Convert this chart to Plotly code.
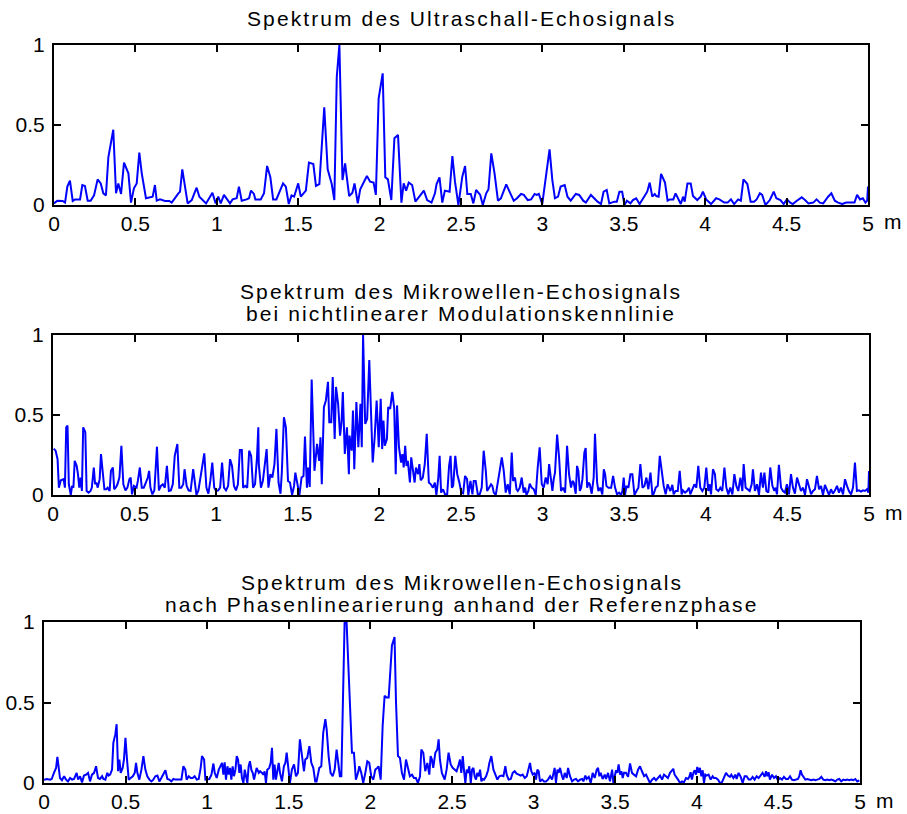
import plotly.graph_objects as go

# ---------------- data ----------------
# Spectrum of the ultrasonic echo signal
x1 = [0, 0.020, 0.053, 0.068, 0.082, 0.098, 0.115, 0.129, 0.160, 0.174,
      0.190, 0.207, 0.225, 0.246, 0.268, 0.287, 0.303, 0.319, 0.334, 0.364,
      0.381, 0.395, 0.412, 0.430, 0.457, 0.473, 0.491, 0.508, 0.524, 0.539,
      0.565, 0.590, 0.606, 0.620, 0.631, 0.651, 0.682, 0.708, 0.723, 0.764,
      0.774, 0.788, 0.805, 0.821, 0.846, 0.876, 0.893, 0.917, 0.934, 0.973,
      0.993, 1.009, 1.024, 1.044, 1.081, 1.097, 1.122, 1.136, 1.153, 1.183,
      1.198, 1.210,
      1.228, 1.237, 1.270, 1.290, 1.309, 1.329, 1.346, 1.366, 1.407, 1.424,
      1.442, 1.459, 1.475, 1.500, 1.516, 1.547, 1.566, 1.593, 1.609, 1.630,
      1.660, 1.681, 1.706, 1.722, 1.737, 1.753, 1.772, 1.788, 1.813, 1.833,
      1.846, 1.866, 1.881, 1.922, 1.942, 1.963, 1.977, 1.994, 2.019, 2.035,
      2.051, 2.072, 2.091, 2.113, 2.134, 2.148, 2.163, 2.179, 2.200, 2.220,
      2.241, 2.272, 2.292, 2.319, 2.340, 2.350, 2.368, 2.385, 2.401, 2.430,
      2.447, 2.463,
      2.484, 2.508, 2.525, 2.539, 2.560, 2.576, 2.593, 2.618, 2.634, 2.655,
      2.669, 2.686, 2.706, 2.727, 2.745, 2.778, 2.803, 2.824, 2.844, 2.869,
      2.886, 2.910, 2.931, 2.952, 2.964, 2.978, 2.999, 3.026, 3.044, 3.061,
      3.077, 3.096, 3.112, 3.137, 3.154, 3.174, 3.205, 3.226, 3.251, 3.267,
      3.298, 3.339, 3.360, 3.376, 3.395, 3.411, 3.442, 3.457, 3.473, 3.490,
      3.504, 3.519, 3.541, 3.556, 3.576, 3.597, 3.628, 3.644, 3.659, 3.675,
      3.690, 3.700, 3.714,
      3.729, 3.753, 3.769, 3.783, 3.804, 3.818, 3.834, 3.850, 3.864, 3.874,
      3.891, 3.911, 3.925, 3.951, 3.972, 3.986, 4.006, 4.036, 4.067, 4.087,
      4.117, 4.138, 4.158, 4.178, 4.202, 4.219, 4.235, 4.259, 4.279, 4.300,
      4.316, 4.336, 4.350, 4.370, 4.397, 4.421, 4.437, 4.462, 4.482, 4.502,
      4.522, 4.538, 4.563, 4.593, 4.613, 4.634, 4.664, 4.684, 4.704, 4.725,
      4.755, 4.775, 4.796, 4.816, 4.842, 4.866, 4.887, 4.917, 4.933, 4.951,
      4.968, 4.984, 4.995, 5.0]
y1 = [0.010, 0.027, 0.025, 0.015, 0.115, 0.152, 0.025, 0.035, 0.035, 0.125,
      0.119, 0.027, 0.027, 0.060, 0.160, 0.135, 0.073, 0.060, 0.300, 0.470,
      0.073, 0.135, 0.069, 0.265, 0.198, 0.015, 0.104, 0.135, 0.327, 0.198,
      0.042, 0.048, 0.052, 0.125, 0.027, 0.035, 0.025, 0.025, 0.015, 0.073,
      0.083, 0.223, 0.125, 0.010, 0.031, 0.108, 0.052, 0.027, 0.010, 0.077,
      0.010, 0.052, 0.010, 0.063, 0.010, 0.035, 0.042, 0.115, 0.027, 0.035,
      0.042, 0.090,
      0.069, 0.035, 0.035, 0.073, 0.244, 0.173, 0.035, 0.035, 0.135, 0.115,
      0.006, 0.060, 0.052, 0.135, 0.052, 0.090, 0.265, 0.256, 0.119, 0.131,
      0.610, 0.223, 0.131, 0.031, 0.802, 1.000, 0.156, 0.260, 0.056, 0.077,
      0.135, 0.010, 0.098, 0.181, 0.146, 0.140, 0.063, 0.665, 0.823, 0.173,
      0.160, 0.031, 0.417, 0.438, 0.015, 0.135, 0.090, 0.140, 0.125, 0.021,
      0.052, 0.090, 0.031, 0.015, 0.073, 0.131, 0.173, 0.015, 0.090, 0.083,
      0.306, 0.146,
      0.000, 0.177, 0.244, 0.069, 0.069, 0.010, 0.094, 0.063, 0.000, 0.073,
      0.098, 0.323, 0.198, 0.027, 0.042, 0.129, 0.073, 0.027, 0.042, 0.069,
      0.063, 0.031, 0.035, 0.069, 0.063, 0.069, 0.006, 0.223, 0.348, 0.156,
      0.042, 0.052, 0.115, 0.125, 0.052, 0.027, 0.069, 0.063, 0.027, 0.015,
      0.063, 0.021, 0.006, 0.083, 0.094, 0.010, 0.021, 0.021, 0.083, 0.083,
      0.000, 0.027, 0.010, 0.031, 0.042, 0.006, 0.056, 0.083, 0.140, 0.052,
      0.069, 0.056, 0.052,
      0.194, 0.140, 0.027, 0.035, 0.035, 0.073, 0.035, 0.006, 0.052, 0.021,
      0.135, 0.135, 0.056, 0.031, 0.052, 0.083, 0.035, 0.006, 0.042, 0.035,
      0.015, 0.015, 0.035, 0.006, 0.035, 0.027, 0.160, 0.131, 0.021, 0.021,
      0.035, 0.073, 0.063, 0.000, 0.031, 0.083, 0.042, 0.031, 0.006, 0.035,
      0.015, 0.006, 0.027, 0.048, 0.031, 0.010, 0.015, 0.035, 0.015, 0.010,
      0.052, 0.073, 0.027, 0.015, 0.006, 0.015, 0.015, 0.015, 0.063, 0.035,
      0.042, 0.015, 0.027, 0.115]

# Spectrum of the microwave echo signal, nonlinear modulation characteristic
x2 = [0.004, 0.016, 0.028, 0.036, 0.048, 0.065, 0.073, 0.081, 0.089, 0.097,
      0.109, 0.117, 0.125, 0.133, 0.145, 0.153, 0.161, 0.169, 0.177, 0.185,
      0.198, 0.206, 0.218, 0.230, 0.238, 0.250, 0.258, 0.266, 0.274, 0.286,
      0.294, 0.306, 0.315, 0.327, 0.335, 0.347, 0.355, 0.367, 0.375, 0.387,
      0.395, 0.407, 0.419, 0.431, 0.444, 0.456, 0.468, 0.476, 0.484, 0.496,
      0.512, 0.520, 0.532, 0.544, 0.556, 0.569, 0.581, 0.589, 0.597, 0.609,
      0.621, 0.637, 0.649, 0.661, 0.673, 0.685, 0.698, 0.710, 0.722, 0.734,
      0.746, 0.762, 0.774, 0.786, 0.798, 0.806, 0.819, 0.831, 0.843, 0.859,
      0.871, 0.879, 0.891, 0.903, 0.915, 0.927, 0.940, 0.952, 0.964, 0.976,
      0.988, 1.000, 1.012, 1.024, 1.036, 1.048, 1.060, 1.073, 1.085, 1.097,
      1.109, 1.121, 1.133, 1.145, 1.157, 1.165, 1.177, 1.190, 1.202, 1.214,
      1.226, 1.238, 1.250, 1.258,
      1.261, 1.274, 1.286, 1.299, 1.309, 1.320, 1.332, 1.344, 1.357, 1.369,
      1.382, 1.394, 1.402, 1.415, 1.427, 1.440, 1.452, 1.465, 1.477, 1.485,
      1.498, 1.510, 1.523, 1.535, 1.544, 1.556, 1.564, 1.573, 1.585, 1.593,
      1.602, 1.618, 1.631, 1.639, 1.647, 1.660, 1.672, 1.685, 1.693, 1.705,
      1.714, 1.726, 1.734, 1.747, 1.759, 1.768, 1.776, 1.788, 1.801, 1.813,
      1.817, 1.830, 1.838, 1.846, 1.859, 1.871, 1.884, 1.892, 1.900, 1.913,
      1.925, 1.938, 1.950, 1.959, 1.971, 1.983, 1.996, 2.008, 2.017, 2.025,
      2.033, 2.046, 2.054, 2.066, 2.079, 2.091, 2.100, 2.108, 2.120, 2.133,
      2.141, 2.149, 2.158, 2.166, 2.174, 2.187, 2.195, 2.207, 2.216, 2.224,
      2.237, 2.245, 2.253, 2.266, 2.278, 2.290, 2.303, 2.315, 2.328, 2.340,
      2.349, 2.361, 2.369, 2.378, 2.390, 2.402, 2.415, 2.427, 2.436, 2.444,
      2.452, 2.465, 2.477, 2.490, 2.502,
      2.513, 2.525, 2.537, 2.545, 2.558, 2.570, 2.578, 2.590, 2.603, 2.615,
      2.627, 2.639, 2.652, 2.660, 2.672, 2.684, 2.692, 2.701, 2.713, 2.725,
      2.737, 2.750, 2.762, 2.774, 2.786, 2.799, 2.811, 2.819, 2.831, 2.840,
      2.848, 2.860, 2.872, 2.884, 2.893, 2.901, 2.913, 2.921, 2.933, 2.946,
      2.958, 2.970, 2.982, 2.995, 3.007, 3.019, 3.031, 3.040, 3.052, 3.060,
      3.068, 3.076, 3.089, 3.101, 3.113, 3.125, 3.138, 3.150, 3.162, 3.174,
      3.183, 3.191, 3.203, 3.211, 3.219, 3.228, 3.236, 3.244, 3.256, 3.264,
      3.273, 3.281, 3.289, 3.301, 3.313, 3.321, 3.334, 3.342, 3.354, 3.366,
      3.375, 3.383, 3.391, 3.403, 3.420, 3.432, 3.444, 3.456, 3.469, 3.481,
      3.489, 3.497, 3.505, 3.514, 3.526, 3.538, 3.550, 3.563, 3.575, 3.587,
      3.599, 3.612, 3.624, 3.636, 3.648, 3.661, 3.673, 3.681, 3.693, 3.706,
      3.718,
      3.730, 3.742, 3.754, 3.766, 3.774, 3.783, 3.795, 3.803, 3.815, 3.828,
      3.840, 3.852, 3.860, 3.873, 3.885, 3.897, 3.905, 3.917, 3.930, 3.942,
      3.954, 3.966, 3.979, 3.991, 4.003, 4.015, 4.024, 4.032, 4.044, 4.056,
      4.064, 4.077, 4.089, 4.101, 4.114, 4.126, 4.138, 4.150, 4.163, 4.175,
      4.187, 4.199, 4.212, 4.224, 4.232, 4.244, 4.256, 4.269, 4.281, 4.289,
      4.301, 4.314, 4.326, 4.338, 4.350, 4.359, 4.371, 4.383, 4.395, 4.408,
      4.420, 4.428, 4.436, 4.448, 4.461, 4.473, 4.485, 4.497, 4.510, 4.522,
      4.534, 4.546, 4.559, 4.571, 4.583, 4.596, 4.608, 4.620, 4.632, 4.645,
      4.657, 4.669, 4.681, 4.694, 4.706, 4.718, 4.730, 4.743, 4.755, 4.767,
      4.779, 4.792, 4.804, 4.816, 4.828, 4.841, 4.853, 4.865, 4.877, 4.890,
      4.902, 4.914, 4.926, 4.939, 4.951, 4.963, 4.975, 4.988, 4.996, 5.0]
y2 = [0.290, 0.277, 0.224, 0.046, 0.092, 0.099, 0.046, 0.423, 0.434, 0.067,
      0.000, 0.057, 0.046, 0.214, 0.182, 0.130, 0.046, 0.109, 0.025, 0.423,
      0.392, 0.025, 0.015, 0.025, 0.046, 0.172, 0.067, 0.078, 0.046, 0.099,
      0.256, 0.151, 0.036, 0.036, 0.046, 0.025, 0.151, 0.172, 0.036, 0.050,
      0.067, 0.109, 0.308, 0.067, 0.029, 0.046, 0.099, 0.109, 0.004, 0.057,
      0.046, 0.088, 0.172, 0.046, 0.046, 0.078, 0.109, 0.151, 0.046, 0.004,
      0.029, 0.302, 0.029, 0.057, 0.067, 0.046, 0.182, 0.025, 0.029, 0.067,
      0.245, 0.319, 0.046, 0.046, 0.067, 0.161, 0.057, 0.029, 0.025, 0.161,
      0.046, 0.000, 0.029, 0.109, 0.203, 0.260, 0.046, 0.008, 0.088, 0.203,
      0.046, 0.025, 0.029, 0.046, 0.203, 0.046, 0.029, 0.057, 0.224, 0.182,
      0.057, 0.029, 0.067, 0.281, 0.281, 0.046, 0.057, 0.046, 0.277, 0.245,
      0.046, 0.067, 0.235, 0.423,
      0.193, 0.046, 0.088, 0.203, 0.287, 0.046, 0.130, 0.109, 0.193, 0.413,
      0.078, 0.008, 0.140, 0.486, 0.423, 0.088, 0.078, 0.000, 0.057, 0.140,
      0.067, 0.000, 0.109, 0.119, 0.365, 0.046, 0.172, 0.050, 0.721, 0.423,
      0.151, 0.319, 0.214, 0.361, 0.067, 0.549, 0.591, 0.707, 0.455, 0.455,
      0.738, 0.350, 0.675, 0.570, 0.371, 0.455, 0.644, 0.256, 0.423, 0.130,
      0.371, 0.277, 0.528, 0.161, 0.581, 0.298, 0.570, 0.298, 1.000, 0.444,
      0.476, 0.843, 0.465, 0.203, 0.361, 0.591, 0.298, 0.602, 0.287, 0.465,
      0.308, 0.350, 0.549, 0.539, 0.644, 0.539, 0.130, 0.560, 0.298, 0.203,
      0.256, 0.172, 0.308, 0.182, 0.214, 0.078, 0.235, 0.151, 0.078, 0.172,
      0.130, 0.193, 0.092, 0.109, 0.193, 0.382, 0.078, 0.067, 0.046, 0.078,
      0.000, 0.109, 0.245, 0.015, 0.036, 0.004, 0.000, 0.182, 0.245, 0.046,
      0.057, 0.245, 0.130, 0.078, 0.015,
      0.010, 0.119, 0.099, 0.000, 0.088, 0.004, 0.088, 0.088, 0.004, 0.004,
      0.046, 0.277, 0.151, 0.025, 0.046, 0.067, 0.057, 0.015, 0.000, 0.067,
      0.151, 0.235, 0.151, 0.015, 0.067, 0.004, 0.266, 0.088, 0.109, 0.036,
      0.025, 0.046, 0.109, 0.015, 0.046, 0.000, 0.025, 0.071, 0.046, 0.036,
      0.000, 0.172, 0.298, 0.067, 0.046, 0.109, 0.067, 0.193, 0.067, 0.025,
      0.099, 0.140, 0.377, 0.235, 0.025, 0.046, 0.015, 0.308, 0.130, 0.046,
      0.088, 0.078, 0.008, 0.182, 0.151, 0.025, 0.046, 0.099, 0.266, 0.294,
      0.046, 0.078, 0.067, 0.008, 0.109, 0.382, 0.078, 0.025, 0.046, 0.004,
      0.161, 0.130, 0.057, 0.046, 0.046, 0.119, 0.046, 0.004, 0.015, 0.000,
      0.025, 0.109, 0.000, 0.057, 0.046, 0.130, 0.130, 0.000, 0.025, 0.046,
      0.193, 0.046, 0.057, 0.109, 0.036, 0.140, 0.000, 0.008, 0.046, 0.057,
      0.245,
      0.130, 0.057, 0.004, 0.067, 0.046, 0.025, 0.063, 0.004, 0.025, 0.025,
      0.151, 0.004, 0.029, 0.015, 0.025, 0.046, 0.004, 0.036, 0.067, 0.046,
      0.182, 0.046, 0.025, 0.046, 0.172, 0.025, 0.067, 0.004, 0.161, 0.130,
      0.036, 0.025, 0.046, 0.025, 0.172, 0.046, 0.004, 0.046, 0.004, 0.130,
      0.057, 0.025, 0.109, 0.025, 0.193, 0.046, 0.036, 0.025, 0.067, 0.161,
      0.025, 0.067, 0.000, 0.140, 0.046, 0.140, 0.025, 0.015, 0.172, 0.057,
      0.025, 0.046, 0.004, 0.189, 0.046, 0.025, 0.015, 0.067, 0.004, 0.130,
      0.046, 0.008, 0.109, 0.057, 0.025, 0.046, 0.000, 0.099, 0.046, 0.004,
      0.025, 0.036, 0.119, 0.036, 0.057, 0.000, 0.063, 0.025, 0.000, 0.036,
      0.008, 0.029, 0.057, 0.015, 0.046, 0.004, 0.099, 0.057, 0.025, 0.004,
      0.046, 0.203, 0.025, 0.029, 0.021, 0.029, 0.025, 0.036, 0.015, 0.150]

# Spectrum of the microwave echo signal after phase linearisation
x3 = [0.000, 0.018, 0.037, 0.047, 0.061, 0.074, 0.082, 0.090, 0.098, 0.110,
      0.123, 0.135, 0.147, 0.160, 0.172, 0.184, 0.200, 0.209, 0.221, 0.233,
      0.245, 0.258, 0.270, 0.282, 0.294, 0.307, 0.319, 0.331, 0.343, 0.356,
      0.364, 0.376, 0.388, 0.396, 0.405, 0.417, 0.425, 0.437, 0.445, 0.454,
      0.462, 0.470, 0.482, 0.490, 0.499, 0.507, 0.519, 0.531, 0.544, 0.556,
      0.564, 0.572, 0.584, 0.597, 0.609, 0.621, 0.633, 0.646, 0.658, 0.670,
      0.682, 0.695, 0.707, 0.719, 0.731, 0.744, 0.756, 0.768, 0.780, 0.793,
      0.805, 0.817, 0.829, 0.842, 0.854, 0.866, 0.874, 0.887, 0.899, 0.911,
      0.923, 0.936, 0.948, 0.960, 0.968, 0.981, 0.989, 1.001, 1.013, 1.026,
      1.038, 1.046, 1.058, 1.071, 1.083, 1.091, 1.099, 1.107, 1.115, 1.124,
      1.132, 1.140, 1.148, 1.156, 1.164, 1.173, 1.181, 1.189, 1.197, 1.205,
      1.213, 1.222, 1.230, 1.238, 1.246, 1.254, 1.262, 1.271, 1.279, 1.287,
      1.295, 1.303, 1.316, 1.324,
      1.336, 1.344, 1.352, 1.360, 1.368, 1.380, 1.389, 1.397, 1.405, 1.413,
      1.421, 1.429, 1.438, 1.446, 1.458, 1.470, 1.479, 1.487, 1.495, 1.507,
      1.519, 1.532, 1.544, 1.556, 1.568, 1.581, 1.593, 1.601, 1.613, 1.626,
      1.638, 1.650, 1.662, 1.670, 1.679, 1.687, 1.699, 1.711, 1.724, 1.732,
      1.744, 1.756, 1.769, 1.781, 1.793, 1.805, 1.813, 1.822, 1.834, 1.842,
      1.854, 1.862, 1.875, 1.887, 1.899, 1.911, 1.924, 1.932, 1.944, 1.956,
      1.969, 1.981, 1.993, 2.005, 2.018, 2.030, 2.042, 2.050, 2.063, 2.075,
      2.087, 2.099, 2.112, 2.124, 2.132, 2.148, 2.157, 2.169, 2.181, 2.193,
      2.206, 2.218, 2.230, 2.242, 2.255, 2.267, 2.279, 2.291, 2.304, 2.312,
      2.324, 2.336, 2.349, 2.361, 2.369, 2.377, 2.385, 2.398, 2.410, 2.418,
      2.426, 2.438, 2.455, 2.467, 2.479, 2.492, 2.504, 2.516, 2.528, 2.541,
      2.549,
      2.557, 2.566, 2.574, 2.582, 2.590, 2.598, 2.606, 2.615, 2.623, 2.631,
      2.639, 2.647, 2.655, 2.664, 2.672, 2.680, 2.688, 2.696, 2.709, 2.721,
      2.729, 2.741, 2.754, 2.766, 2.778, 2.790, 2.803, 2.815, 2.827, 2.835,
      2.847, 2.860, 2.872, 2.884, 2.896, 2.909, 2.921, 2.933, 2.946, 2.958,
      2.970, 2.978, 2.986, 2.995, 3.007, 3.015, 3.023, 3.031, 3.039, 3.052,
      3.064, 3.076, 3.088, 3.101, 3.113, 3.121, 3.129, 3.137, 3.146, 3.154,
      3.162, 3.174, 3.182, 3.191, 3.203, 3.211, 3.223, 3.236, 3.248, 3.260,
      3.272, 3.285, 3.297, 3.305, 3.317, 3.325, 3.338, 3.350, 3.362, 3.374,
      3.387, 3.395, 3.403, 3.411, 3.423, 3.436, 3.444, 3.456, 3.468, 3.481,
      3.489, 3.497, 3.505, 3.513, 3.521, 3.530, 3.538, 3.546, 3.554, 3.566,
      3.579, 3.591, 3.603, 3.615, 3.628, 3.640, 3.652, 3.664, 3.677, 3.689,
      3.701, 3.713, 3.726, 3.738, 3.750, 3.762, 3.775,
      3.787, 3.799, 3.811, 3.823, 3.836, 3.848, 3.856, 3.864, 3.872, 3.885,
      3.897, 3.909, 3.921, 3.934, 3.946, 3.954, 3.962, 3.970, 3.979, 3.987,
      3.995, 4.003, 4.011, 4.019, 4.028, 4.036, 4.044, 4.052, 4.060, 4.072,
      4.085, 4.097, 4.105, 4.117, 4.130, 4.142, 4.154, 4.166, 4.179, 4.191,
      4.203, 4.211, 4.224, 4.236, 4.244, 4.256, 4.269, 4.281, 4.293, 4.305,
      4.318, 4.330, 4.342, 4.354, 4.367, 4.379, 4.391, 4.403, 4.416, 4.424,
      4.432, 4.440, 4.448, 4.461, 4.473, 4.485, 4.497, 4.510, 4.522, 4.534,
      4.546, 4.559, 4.571, 4.583, 4.595, 4.608, 4.620, 4.628, 4.636, 4.644,
      4.653, 4.665, 4.677, 4.689, 4.702, 4.714, 4.726, 4.738, 4.751, 4.763,
      4.775, 4.787, 4.800, 4.812, 4.824, 4.836, 4.849, 4.861, 4.873, 4.885,
      4.898, 4.910, 4.922, 4.934, 4.947, 4.959, 4.971, 4.983, 4.996]
y3 = [0.020, 0.025, 0.021, 0.025, 0.063, 0.094, 0.163, 0.104, 0.031, 0.017,
      0.042, 0.021, 0.010, 0.031, 0.021, 0.025, 0.063, 0.021, 0.042, 0.004,
      0.046, 0.052, 0.063, 0.010, 0.052, 0.063, 0.104, 0.031, 0.025, 0.042,
      0.025, 0.021, 0.063, 0.046, 0.052, 0.083, 0.250, 0.302, 0.365, 0.073,
      0.146, 0.063, 0.094, 0.146, 0.281, 0.167, 0.021, 0.031, 0.042, 0.063,
      0.125, 0.063, 0.021, 0.083, 0.167, 0.083, 0.042, 0.021, 0.010, 0.021,
      0.042, 0.046, 0.010, 0.031, 0.052, 0.079, 0.025, 0.021, 0.010, 0.025,
      0.021, 0.021, 0.025, 0.021, 0.104, 0.083, 0.021, 0.042, 0.031, 0.031,
      0.042, 0.021, 0.025, 0.094, 0.167, 0.146, 0.021, 0.021, 0.025, 0.052,
      0.121, 0.063, 0.031, 0.083, 0.115, 0.125, 0.052, 0.129, 0.021, 0.104,
      0.052, 0.094, 0.021, 0.104, 0.042, 0.083, 0.167, 0.146, 0.063, 0.115,
      0.031, 0.000, 0.083, 0.042, 0.000, 0.104, 0.135, 0.079, 0.063, 0.021,
      0.063, 0.094, 0.063, 0.073,
      0.063, 0.052, 0.073, 0.000, 0.083, 0.094, 0.125, 0.219, 0.021, 0.115,
      0.021, 0.063, 0.125, 0.063, 0.010, 0.104, 0.125, 0.188, 0.115, 0.000,
      0.083, 0.115, 0.042, 0.063, 0.271, 0.167, 0.073, 0.146, 0.156, 0.229,
      0.125, 0.094, 0.010, 0.010, 0.063, 0.094, 0.104, 0.313, 0.396, 0.333,
      0.167, 0.063, 0.042, 0.083, 0.208, 0.125, 0.042, 0.042, 0.583, 1.000,
      1.000, 0.792, 0.396, 0.188, 0.188, 0.021, 0.063, 0.104, 0.063, 0.000,
      0.063, 0.135, 0.125, 0.042, 0.021, 0.083, 0.094, 0.104, 0.021, 0.354,
      0.542, 0.531, 0.531, 0.719, 0.854, 0.906, 0.500, 0.167, 0.156, 0.063,
      0.021, 0.146, 0.083, 0.042, 0.052, 0.031, 0.031, 0.000, 0.042, 0.208,
      0.188, 0.073, 0.125, 0.052, 0.167, 0.146, 0.094, 0.188, 0.208, 0.271,
      0.146, 0.063, 0.021, 0.083, 0.188, 0.115, 0.094, 0.083, 0.073, 0.115,
      0.146,
      0.063, 0.167, 0.073, 0.000, 0.083, 0.063, 0.104, 0.000, 0.083, 0.094,
      0.042, 0.021, 0.063, 0.042, 0.083, 0.010, 0.025, 0.021, 0.042, 0.079,
      0.125, 0.167, 0.083, 0.052, 0.021, 0.042, 0.046, 0.042, 0.104, 0.052,
      0.021, 0.025, 0.063, 0.073, 0.058, 0.052, 0.046, 0.052, 0.031, 0.042,
      0.083, 0.125, 0.073, 0.052, 0.063, 0.021, 0.083, 0.073, 0.010, 0.021,
      0.010, 0.010, 0.021, 0.042, 0.021, 0.063, 0.094, 0.000, 0.083, 0.063,
      0.094, 0.042, 0.021, 0.063, 0.031, 0.094, 0.042, 0.010, 0.021, 0.025,
      0.010, 0.021, 0.025, 0.010, 0.046, 0.025, 0.038, 0.000, 0.063, 0.031,
      0.083, 0.094, 0.042, 0.063, 0.025, 0.052, 0.025, 0.063, 0.010, 0.083,
      0.000, 0.042, 0.079, 0.063, 0.115, 0.052, 0.073, 0.031, 0.063, 0.063,
      0.038, 0.121, 0.063, 0.052, 0.042, 0.083, 0.104, 0.073, 0.042, 0.052,
      0.021, 0.000, 0.021, 0.031, 0.017, 0.031, 0.046,
      0.021, 0.052, 0.042, 0.031, 0.063, 0.079, 0.088, 0.052, 0.042, 0.021,
      0.000, 0.010, 0.004, 0.031, 0.025, 0.038, 0.067, 0.021, 0.063, 0.079,
      0.052, 0.100, 0.063, 0.094, 0.042, 0.079, 0.000, 0.052, 0.046, 0.052,
      0.021, 0.042, 0.031, 0.031, 0.021, 0.000, 0.004, 0.031, 0.063, 0.046,
      0.038, 0.052, 0.031, 0.052, 0.025, 0.063, 0.038, 0.000, 0.042, 0.042,
      0.021, 0.021, 0.038, 0.021, 0.042, 0.031, 0.046, 0.063, 0.038, 0.073,
      0.042, 0.067, 0.021, 0.052, 0.031, 0.042, 0.017, 0.031, 0.021, 0.038,
      0.025, 0.025, 0.042, 0.021, 0.017, 0.021, 0.025, 0.042, 0.079, 0.052,
      0.038, 0.021, 0.025, 0.021, 0.017, 0.021, 0.017, 0.021, 0.025, 0.038,
      0.021, 0.017, 0.021, 0.017, 0.021, 0.017, 0.010, 0.021, 0.025, 0.010,
      0.021, 0.017, 0.021, 0.017, 0.021, 0.017, 0.025, 0.010, 0.017]

x_ticks = [0, 0.5, 1, 1.5, 2, 2.5, 3, 3.5, 4, 4.5, 5]
x_ticktext = ["0", "0.5", "1", "1.5", "2", "2.5", "3", "3.5", "4", "4.5", "5"]
y_ticks = [0, 0.5, 1]
y_ticktext = ["0", "0.5", "1"]

# panel titles, one list of lines per panel
titles = [
    ["Spektrum des Ultraschall-Echosignals"],
    ["Spektrum des Mikrowellen-Echosignals",
     "bei nichtlinearer Modulationskennlinie"],
    ["Spektrum des Mikrowellen-Echosignals",
     "nach Phasenlinearierung anhand der Referenzphase"],
]

# ---------------- layout ----------------
W, H = 907, 814
FONT = "Liberation Sans, Arial, sans-serif"
FS = 21          # tick labels
FS_TITLE = 21    # panel titles
TRACKING = 2.1   # extra letter spacing of the titles, px

# plot-area boxes in pixels: (left, right, top, bottom)
boxes = [(54, 868, 45, 205), (53, 869, 335, 495), (44, 860, 622, 783)]
# vertical centre of every title line, and horizontal centre of each title
title_lines_y = [[18], [291, 313], [582, 604]]
title_cx = [461, 461, 462]

fig = go.Figure()
series = [(x1, y1), (x2, y2), (x3, y3)]
for i, ((xs, ys), (l, r, t, b)) in enumerate(zip(series, boxes)):
    n = "" if i == 0 else str(i + 1)
    fig.add_trace(go.Scatter(
        x=xs, y=ys, mode="lines",
        line=dict(color="#0000ff", width=2),
        xaxis="x" + n, yaxis="y" + n, showlegend=False,
        hoverinfo="skip",
    ))
    common = dict(
        showline=True, linecolor="black", linewidth=2, mirror="ticks",
        ticks="inside", ticklen=7, tickwidth=1.5, tickcolor="black",
        showgrid=False, zeroline=False, automargin=False,
        tickfont=dict(family=FONT, size=FS, color="black"),
    )
    fig.layout["xaxis" + n] = dict(
        common, domain=[l / W, r / W], range=[0, 5], anchor="y" + n,
        tickmode="array", tickvals=x_ticks, ticktext=x_ticktext,
        ticklabelstandoff=-1,
    )
    fig.layout["yaxis" + n] = dict(
        common, domain=[1 - b / H, 1 - t / H], range=[0, 1], anchor="x" + n,
        tickmode="array", tickvals=y_ticks, ticktext=y_ticktext,
        ticklabelstandoff=3,
    )
    for line, ly in zip(titles[i], title_lines_y[i]):
        fig.add_annotation(
            text=f'<span style="letter-spacing:{TRACKING}px">{line}</span>',
            x=title_cx[i] / W, y=1 - ly / H,
            xref="paper", yref="paper", showarrow=False,
            xanchor="center", yanchor="middle",
            font=dict(family=FONT, size=FS_TITLE, color="black"),
        )
    # unit label next to the last x tick
    fig.add_annotation(
        text="m", x=(r + 25) / W, y=1 - (b + 17) / H,
        xref="paper", yref="paper", showarrow=False,
        xanchor="center", yanchor="middle",
        font=dict(family=FONT, size=FS, color="black"),
    )

fig.update_layout(
    width=W, height=H, margin=dict(l=0, r=0, t=0, b=0),
    paper_bgcolor="white", plot_bgcolor="white",
)

fig.write_html("out.html")
